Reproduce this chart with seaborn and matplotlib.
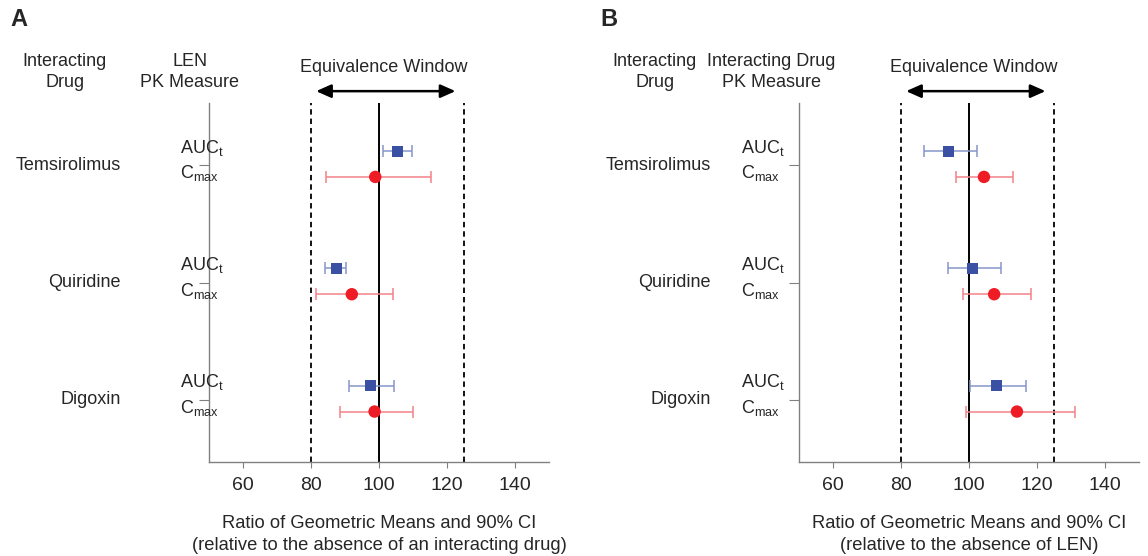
import numpy as np
import pandas as pd
import seaborn as sns
import matplotlib.pyplot as plt
import matplotlib.transforms as mtransforms

# data
drugs = ['Temsirolimus', 'Quiridine', 'Digoxin']
measures = ['AUC', 'Cmax']

# panel A: LEN PK measure
a_auc = [105.4, 87.5, 97.6]
a_auc_lo = [101.3, 84.1, 91.1]
a_auc_hi = [109.6, 90.4, 104.3]
a_cmax = [98.9, 92.0, 98.7]
a_cmax_lo = [84.4, 81.4, 88.6]
a_cmax_hi = [115.2, 104.0, 110.0]

# panel B: interacting drug PK measure
b_auc = [94.1, 100.9, 108.2]
b_auc_lo = [86.7, 93.8, 100.3]
b_auc_hi = [102.4, 109.3, 116.9]
b_cmax = [104.4, 107.4, 114.1]
b_cmax_lo = [96.1, 98.2, 99.1]
b_cmax_hi = [113.0, 118.1, 131.2]

x_ticks = [60, 80, 100, 120, 140]
equiv_lo, equiv_hi = 80, 125

sns.set_style("ticks")
plt.rcParams['font.family'] = ['Liberation Sans', 'DejaVu Sans']
plt.rcParams['mathtext.fontset'] = 'custom'
plt.rcParams['mathtext.rm'] = 'Liberation Sans'
plt.rcParams['mathtext.it'] = 'Liberation Sans:italic'
FS = 13          # row / header text
FS_TICK = 14
FS_LAB = 13.2

blue = '#3a50a2'
red = '#ee1c25'
blue_l = '#8896cc'
red_l = '#f3838a'
offset = {'AUC': -0.12, 'Cmax': 0.10}


def make_df(auc, auc_lo, auc_hi, cmax, cmax_lo, cmax_hi):
    rows = []
    for i, d in enumerate(drugs):
        rows.append([d, i, 'AUC', auc[i], auc_lo[i], auc_hi[i]])
        rows.append([d, i, 'Cmax', cmax[i], cmax_lo[i], cmax_hi[i]])
    df = pd.DataFrame(rows, columns=['drug', 'idx', 'measure', 'ratio', 'lo', 'hi'])
    df['y'] = df['idx'] + df['measure'].map(offset)
    return df


dfA = make_df(a_auc, a_auc_lo, a_auc_hi, a_cmax, a_cmax_lo, a_cmax_hi)
dfB = make_df(b_auc, b_auc_lo, b_auc_hi, b_cmax, b_cmax_lo, b_cmax_hi)

fig = plt.figure(figsize=(11.48, 5.56), dpi=100)
axA = fig.add_axes([209 / 1148, 1 - 462 / 556, 340 / 1148, 359 / 556])
axB = fig.add_axes([799 / 1148, 1 - 462 / 556, 340 / 1148, 359 / 556])


def draw_panel(ax, df, letter, head1_x, head2_x, head2, name_x, pk_x, xlab2):
    ax.axvline(100, color='black', lw=1.4, zorder=1)
    for v in (equiv_lo, equiv_hi):
        ax.axvline(v, color='black', lw=1.3, ls=(0, (3, 2.2)), zorder=1)

    for m, c in (('AUC', blue_l), ('Cmax', red_l)):
        sub = df[df['measure'] == m]
        ax.errorbar(sub['ratio'], sub['y'],
                    xerr=[sub['ratio'] - sub['lo'], sub['hi'] - sub['ratio']],
                    fmt='none', ecolor=c, elinewidth=1.1, capsize=4, capthick=1.1, zorder=2)

    sns.scatterplot(data=df, x='ratio', y='y', hue='measure', style='measure', size='measure',
                    palette={'AUC': blue, 'Cmax': red}, markers={'AUC': 's', 'Cmax': 'o'},
                    sizes={'AUC': 62, 'Cmax': 80}, linewidth=0, legend=False, ax=ax, zorder=3)

    ax.set_xlim(50, 150)
    ax.set_ylim(2.53, -0.53)
    ax.set_xticks(x_ticks)
    ax.set_yticks(range(len(drugs)))
    ax.set_yticklabels([])
    ax.tick_params(axis='x', labelsize=FS_TICK, length=4, color='#808080', pad=7)
    ax.tick_params(axis='y', length=7, color='#808080')
    sns.despine(ax=ax)
    for s in ('left', 'bottom'):
        ax.spines[s].set_color('#808080')
        ax.spines[s].set_linewidth(1.0)
    ax.set_xlabel('Ratio of Geometric Means and 90% CI\n' + xlab2, fontsize=FS_LAB,
                  linespacing=1.4, labelpad=15)
    ax.set_ylabel('')

    # row labels
    tr = mtransforms.blended_transform_factory(fig.transFigure, ax.transData)
    for i, d in enumerate(drugs):
        fig.text(name_x / 1148, i, d, transform=tr, ha='right', va='center', fontsize=FS)
        ax.text(pk_x / 1148, i - 0.15, r'AUC$_{\mathrm{t}}$', transform=tr, ha='left',
                va='center', fontsize=FS)
        ax.text(pk_x / 1148, i + 0.07, r'C$_{\mathrm{max}}$', transform=tr, ha='left',
                va='center', fontsize=FS)

    # headers
    fig.text(head1_x / 1148, 1 - 72 / 556, 'Interacting\nDrug', ha='center', va='center',
             fontsize=FS, linespacing=1.3)
    fig.text(head2_x / 1148, 1 - 72 / 556, head2, ha='center', va='center',
             fontsize=FS, linespacing=1.3)
    fig.text((head1_x - 55) / 1148, 1 - 20 / 556, letter, ha='left', va='center',
             fontsize=17, fontweight='bold')

    # equivalence window
    trx = mtransforms.blended_transform_factory(ax.transData, ax.transAxes)
    ax.annotate('', xy=(81.5, 1.033), xytext=(122.5, 1.033), xycoords=trx, textcoords=trx,
                arrowprops=dict(arrowstyle='<|-|>,head_length=0.9,head_width=0.4',
                                color='black', lw=1.8, shrinkA=0, shrinkB=0),
                annotation_clip=False)
    ax.text(101.5, 1.10, 'Equivalence Window', transform=trx, ha='center', va='center',
            fontsize=FS)


draw_panel(axA, dfA, 'A', 65, 190, 'LEN\nPK Measure', 121, 180,
           '(relative to the absence of an interacting drug)')
draw_panel(axB, dfB, 'B', 655, 771, 'Interacting Drug\nPK Measure', 711, 741,
           '(relative to the absence of LEN)')

fig.savefig('out.png', dpi=100)
